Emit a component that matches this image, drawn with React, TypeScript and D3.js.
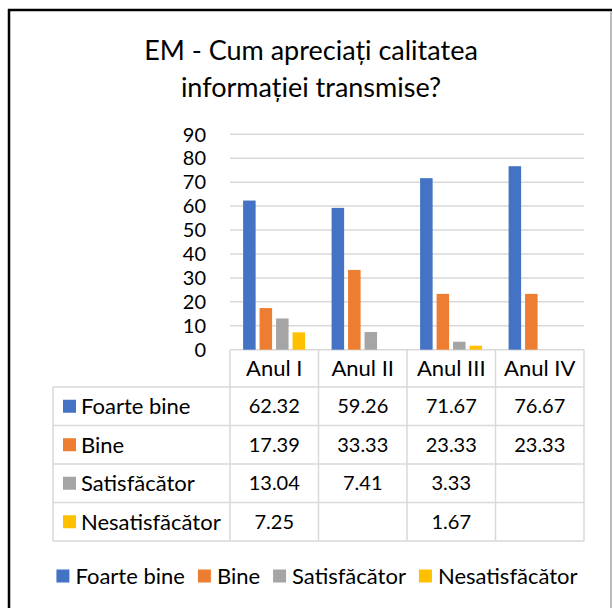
import React, { useEffect, useRef } from "react";
import * as d3 from "d3";

const categories = ["Anul I", "Anul II", "Anul III", "Anul IV"];
const seriesNames = ["Foarte bine", "Bine", "Satisfăcător", "Nesatisfăcător"];
const foarteBine = [62.32, 59.26, 71.67, 76.67];
const bine = [17.39, 33.33, 23.33, 23.33];
const satisfacator = [13.04, 7.41, 3.33, null];
const nesatisfacator = [7.25, null, 1.67, null];
const yTicks = [0, 10, 20, 30, 40, 50, 60, 70, 80, 90];
const titleLines = ["EM - Cum apreciați calitatea", "informației transmise?"];
const colors = ["#4472C4", "#ED7D31", "#A5A5A5", "#FFC000"];

const W = 613;
const H = 608;
const FONT = "Lato, 'Open Sans', sans-serif";
const WORD_SIZE = 22;
const NUM_SIZE = 20;

export default function App() {
  const ref = useRef<SVGSVGElement>(null);

  useEffect(() => {
    const svg = d3.select(ref.current);
    svg.selectAll("*").remove();

    const values = [foarteBine, bine, satisfacator, nesatisfacator];

    // frame
    svg.append("rect").attr("x", 0).attr("y", 0).attr("width", W).attr("height", H).attr("fill", "#fff");
    svg.append("line").attr("x1", 9).attr("x2", 9).attr("y1", 9).attr("y2", H).attr("stroke", "#000").attr("stroke-width", 2.5);
    svg.append("line").attr("x1", 8).attr("x2", 612).attr("y1", 10).attr("y2", 10).attr("stroke", "#000").attr("stroke-width", 2.5);
    svg.append("line").attr("x1", 611).attr("x2", 611).attr("y1", 11).attr("y2", H).attr("stroke", "#A6A6A6").attr("stroke-width", 1.5);

    // title
    const title = svg.append("text").attr("text-anchor", "middle").attr("font-family", FONT).attr("font-size", 27).attr("fill", "#000");
    titleLines.forEach((t, i) => {
      title.append("tspan").attr("x", 311).attr("y", 60 + i * 37).text(t);
    });

    const y = d3.scaleLinear().domain([0, 90]).range([349.7, 134.3]);
    const x0 = d3.scaleBand<string>().domain(categories).range([230, 584]).padding(0);
    const bw = x0.bandwidth();
    const x1 = d3.scaleBand<string>().domain(seriesNames).range([bw * 0.148, bw * 0.848]).paddingInner(0.24);

    const grid = "#D9D9D9";
    // gridlines
    svg.append("g").selectAll("line").data(yTicks).join("line")
      .attr("x1", 230).attr("x2", 584)
      .attr("y1", (d) => y(d)).attr("y2", (d) => y(d))
      .attr("stroke", grid).attr("stroke-width", 1.5);

    // tick labels
    svg.append("g").selectAll("text").data(yTicks).join("text")
      .attr("x", 206).attr("y", (d) => y(d)).attr("dy", "0.36em")
      .attr("text-anchor", "end").attr("font-family", FONT).attr("font-size", NUM_SIZE).attr("fill", "#000")
      .text((d) => String(d));

    // bars
    seriesNames.forEach((s, si) => {
      const data = categories.map((c, ci) => ({ c, v: values[si][ci] })).filter((d) => d.v != null);
      svg.append("g").selectAll("rect").data(data).join("rect")
        .attr("x", (d) => (x0(d.c) as number) + (x1(s) as number))
        .attr("width", x1.bandwidth())
        .attr("y", (d) => y(d.v as number))
        .attr("height", (d) => y(0) - y(d.v as number))
        .attr("fill", colors[si]);
    });

    // table
    const tableTop = y(0);
    const headerBottom = 387;
    const rowH = 38.5;
    const tableLeft = 53;
    const tableBottom = headerBottom + rowH * seriesNames.length;
    const tg = svg.append("g");
    const bounds = [...categories.map((c) => x0(c) as number), 584];
    bounds.forEach((bx) => {
      tg.append("line").attr("x1", bx).attr("x2", bx).attr("y1", tableTop).attr("y2", tableBottom).attr("stroke", grid).attr("stroke-width", 1.5);
    });
    tg.append("line").attr("x1", tableLeft).attr("x2", tableLeft).attr("y1", headerBottom).attr("y2", tableBottom).attr("stroke", grid).attr("stroke-width", 1.5);
    for (let r = 0; r <= seriesNames.length; r++) {
      const yy = headerBottom + r * rowH;
      tg.append("line").attr("x1", tableLeft).attr("x2", 584).attr("y1", yy).attr("y2", yy).attr("stroke", grid).attr("stroke-width", 1.5);
    }
    categories.forEach((c) => {
      tg.append("text").attr("x", (x0(c) as number) + bw / 2).attr("y", (tableTop + headerBottom) / 2).attr("dy", "0.36em")
        .attr("text-anchor", "middle").attr("font-family", FONT).attr("font-size", WORD_SIZE).attr("fill", "#000").text(c);
    });
    seriesNames.forEach((s, si) => {
      const cy = headerBottom + rowH * si + rowH / 2;
      tg.append("rect").attr("x", 63).attr("y", cy - 6.5).attr("width", 13).attr("height", 13).attr("fill", colors[si]);
      tg.append("text").attr("x", 81).attr("y", cy).attr("dy", "0.36em").attr("font-family", FONT).attr("font-size", WORD_SIZE).attr("fill", "#000").text(s);
      categories.forEach((c, ci) => {
        const v = values[si][ci];
        if (v == null) return;
        tg.append("text").attr("x", (x0(c) as number) + bw / 2).attr("y", cy).attr("dy", "0.36em")
          .attr("text-anchor", "middle").attr("font-family", FONT).attr("font-size", NUM_SIZE).attr("fill", "#000").text(d3.format(".2f")(v).replace(/0$/, "").replace(/\.$/, ""));
      });
    });

    // legend
    const lg = svg.append("g");
    const ly = 576;
    const items: { g: any; w: number }[] = [];
    seriesNames.forEach((s, si) => {
      const g = lg.append("g");
      g.append("rect").attr("x", 0).attr("y", ly - 6.5).attr("width", 13).attr("height", 13).attr("fill", colors[si]);
      const t = g.append("text").attr("x", 19).attr("y", ly).attr("dy", "0.36em").attr("font-family", FONT).attr("font-size", WORD_SIZE).attr("fill", "#000").text(s);
      const w = 19 + (t.node() as SVGTextElement).getComputedTextLength();
      items.push({ g, w });
    });
    const gap = 13;
    const total = items.reduce((a, b) => a + b.w, 0) + gap * (items.length - 1);
    let cx = 317 - total / 2;
    items.forEach((it) => {
      it.g.attr("transform", `translate(${cx},0)`);
      cx += it.w + gap;
    });
  }, []);

  return (
    <svg ref={ref} width={W} height={H} style={{ position: "absolute", left: 0, top: 0, display: "block" }} />
  );
}
